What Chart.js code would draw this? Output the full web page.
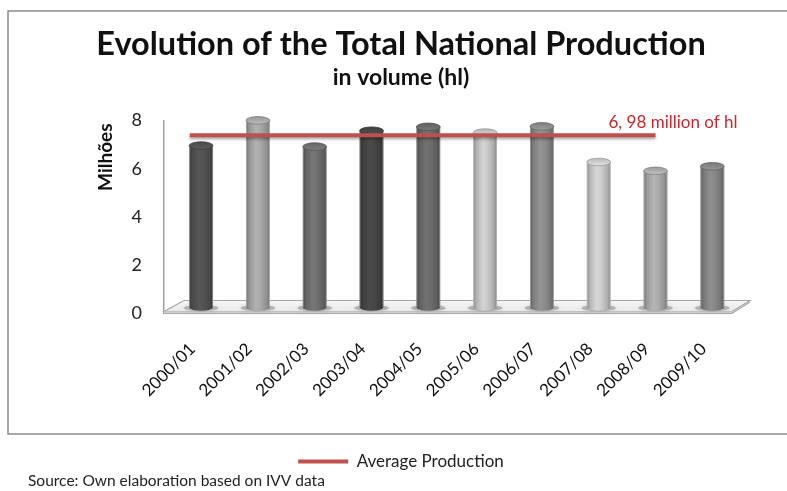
<!DOCTYPE html>
<html>
<head>
<meta charset="utf-8">
<title>Evolution of the Total National Production</title>
<script src="https://cdn.jsdelivr.net/npm/chart.js@4.4.1/dist/chart.umd.min.js"></script>
<style>
  html, body { margin: 0; padding: 0; background: #ffffff; }
  canvas { display: block; }
</style>
</head>
<body>
<canvas id="prodChart" width="787" height="491"></canvas>
<script>
// Wine campaigns and production (millions of hl)
const campaigns = ["2000/01", "2001/02", "2002/03", "2003/04", "2004/05", "2005/06", "2006/07", "2007/08", "2008/09", "2009/10"];
const production = [6.71, 7.76, 6.67, 7.33, 7.49, 7.25, 7.51, 6.03, 5.66, 5.85];
const yTicks = [0, 2, 4, 6, 8];

// Average production line, spanning from the first to the ninth campaign
const averageValue = 6.98;
const averageSpan = [-0.2, 8];
const averageLabel = "6, 98 million of hl";

// Grey tone of each cylinder
const barTones = [82, 168, 112, 70, 108, 200, 140, 204, 172, 135];

const FONT = "Lato, 'Open Sans', sans-serif";
const RED = "#c0504d";

// 3D depth offsets (cylinders sit in the middle of the floor, line further back)
const depth = { floorX: 20, floorY: -12.5, barX: 8.7, barY: -6, lineX: 8.7, lineY: -10 };

function grey(v, k) {
  const c = Math.max(0, Math.min(255, Math.round(v * k)));
  return "rgb(" + c + "," + c + "," + c + ")";
}

// Frame, floor, cylinders, average label, axis title and source note
const decorations = {
  id: "decorations",
  beforeDraw(chart) {
    const ctx = chart.ctx;
    ctx.save();
    ctx.fillStyle = "#ffffff";
    ctx.fillRect(0, 0, chart.width, chart.height);
    ctx.strokeStyle = "#8c8c8c";
    ctx.lineWidth = 1.5;
    ctx.strokeRect(8, 11, chart.width + 20, 423);
    ctx.restore();
  },
  beforeDatasetsDraw(chart) {
    const ctx = chart.ctx;
    const a = chart.chartArea;
    const b = a.bottom;
    ctx.save();
    // floor slab
    ctx.beginPath();
    ctx.moveTo(a.left, b - 1.5);
    ctx.lineTo(a.right, b - 1.5);
    ctx.lineTo(a.right + depth.floorX - 2, b + depth.floorY);
    ctx.lineTo(a.left + depth.floorX, b + depth.floorY);
    ctx.closePath();
    const g = ctx.createLinearGradient(0, b + depth.floorY, 0, b);
    g.addColorStop(0, "#f6f6f6");
    g.addColorStop(1, "#e8e8e8");
    ctx.fillStyle = g;
    ctx.fill();
    ctx.strokeStyle = "#a8a8a8";
    ctx.lineWidth = 1.2;
    ctx.stroke();
    ctx.fillStyle = "#dcdcdc";
    ctx.fillRect(a.left, b - 1.5, a.right - a.left, 1.8);
    ctx.beginPath();
    ctx.moveTo(a.left, b + 0.3);
    ctx.lineTo(a.right, b + 0.3);
    ctx.lineTo(a.right + depth.floorX - 2, b + depth.floorY + 1.5);
    ctx.stroke();
    ctx.restore();
  },
  beforeDatasetDraw(chart, args) {
    if (chart.data.datasets[args.index].type !== "line") return;
    const ctx = chart.ctx;
    ctx.save();
    ctx.translate(depth.lineX, depth.lineY);
    ctx.shadowColor = "rgba(0,0,0,0.35)";
    ctx.shadowBlur = 3;
    ctx.shadowOffsetY = 2;
  },
  afterDatasetDraw(chart, args) {
    const ctx = chart.ctx;
    const ds = chart.data.datasets[args.index];
    if (ds.type === "line") {
      ctx.restore();
      const pts = args.meta.data;
      const end = pts[pts.length - 1];
      ctx.save();
      ctx.fillStyle = "#c8282d";
      ctx.font = "17px " + FONT;
      ctx.textBaseline = "middle";
      ctx.fillText(averageLabel, end.x + depth.lineX - 47, end.y + depth.lineY - 12.5);
      ctx.restore();
      return;
    }
    // cylinders from the bar elements
    args.meta.data.forEach((el, i) => {
      const p = el.getProps(["x", "y", "base", "width"], true);
      const x = p.x + depth.barX;
      const top = p.y + depth.barY;
      const bottom = p.base + depth.barY;
      const rx = p.width / 2;
      const ry = 3.8;
      const tone = barTones[i];
      ctx.save();
      // shadow on the floor
      ctx.fillStyle = "rgba(0,0,0,0.22)";
      ctx.shadowColor = "rgba(0,0,0,0.45)";
      ctx.shadowBlur = 5;
      ctx.beginPath();
      ctx.ellipse(x, bottom + 1, rx * 1.45, 3.2, 0, 0, Math.PI * 2);
      ctx.fill();
      ctx.restore();

      ctx.save();
      const body = ctx.createLinearGradient(x - rx, 0, x + rx, 0);
      body.addColorStop(0, grey(tone, 0.68));
      body.addColorStop(0.15, grey(tone, 0.9));
      body.addColorStop(0.42, grey(tone, 1.06));
      body.addColorStop(0.62, grey(tone, 1.0));
      body.addColorStop(0.86, grey(tone, 0.86));
      body.addColorStop(1, grey(tone, 0.66));
      ctx.fillStyle = body;
      ctx.beginPath();
      ctx.moveTo(x - rx, top);
      ctx.lineTo(x - rx, bottom);
      ctx.ellipse(x, bottom, rx, ry, 0, Math.PI, 0, true);
      ctx.lineTo(x + rx, top);
      ctx.closePath();
      ctx.fill();
      // soft light rim along both sides
      ctx.strokeStyle = "rgba(255,255,255,0.35)";
      ctx.lineWidth = 1;
      ctx.beginPath();
      ctx.moveTo(x - rx + 0.5, top);
      ctx.lineTo(x - rx + 0.5, bottom);
      ctx.moveTo(x + rx - 0.5, top);
      ctx.lineTo(x + rx - 0.5, bottom);
      ctx.stroke();
      // top cap
      const cap = ctx.createLinearGradient(0, top - ry, 0, top + ry);
      cap.addColorStop(0, grey(tone, 0.9));
      cap.addColorStop(1, grey(tone, 1.12));
      ctx.fillStyle = cap;
      ctx.beginPath();
      ctx.ellipse(x, top, rx, ry, 0, 0, Math.PI * 2);
      ctx.fill();
      ctx.strokeStyle = grey(tone, 0.75);
      ctx.lineWidth = 0.8;
      ctx.stroke();
      ctx.restore();
    });
  },
  afterDraw(chart) {
    const ctx = chart.ctx;
    const y = chart.scales.y;
    ctx.save();
    // rotated axis title
    ctx.translate(106, y.getPixelForValue(6.48));
    ctx.rotate(-Math.PI / 2);
    ctx.font = "bold 19px " + FONT;
    ctx.fillStyle = "#111111";
    ctx.textAlign = "center";
    ctx.textBaseline = "middle";
    ctx.fillText("Milhões", 0, 0);
    ctx.restore();

    ctx.save();
    ctx.font = "15.5px " + FONT;
    ctx.fillStyle = "#222222";
    ctx.textBaseline = "middle";
    ctx.fillText("Source: Own elaboration based on IVV data", 28, 481);
    ctx.restore();
  }
};

const ctx = document.getElementById("prodChart").getContext("2d");
new Chart(ctx, {
  type: "bar",
  data: {
    labels: campaigns,
    datasets: [
      {
        type: "bar",
        label: "Production",
        data: production,
        backgroundColor: "rgba(0,0,0,0)",
        barPercentage: 0.42,
        categoryPercentage: 1,
        grouped: false,
        order: 1
      },
      {
        type: "line",
        label: "Average Production",
        data: averageSpan.map((x) => ({ x: x, y: averageValue })),
        xAxisID: "xl",
        borderColor: RED,
        backgroundColor: RED,
        borderWidth: 4,
        pointRadius: 0,
        order: 0
      }
    ]
  },
  options: {
    responsive: false,
    devicePixelRatio: 1,
    animation: false,
    layout: { padding: { left: 70, right: 55, top: 10, bottom: 11 } },
    plugins: {
      tooltip: { enabled: false },
      title: {
        display: true,
        text: "Evolution of the Total National Production",
        color: "#111111",
        font: { family: FONT, size: 32.5, weight: "bold" },
        padding: { top: 15, bottom: 0 }
      },
      subtitle: {
        display: true,
        text: "in volume (hl)",
        color: "#111111",
        font: { family: FONT, size: 23, weight: "bold" },
        padding: { top: 0, bottom: 29 }
      },
      legend: {
        position: "bottom",
        labels: {
          boxWidth: 50,
          boxHeight: 4,
          padding: 8,
          color: "#222222",
          font: { family: FONT, size: 17 },
          generateLabels(chart) {
            return Chart.defaults.plugins.legend.labels.generateLabels(chart)
              .filter((l) => l.datasetIndex === 1)
              .map((l) => Object.assign(l, { lineWidth: 0, fillStyle: RED }));
          }
        }
      }
    },
    scales: {
      x: {
        type: "category",
        grid: { display: false },
        border: { display: false },
        ticks: {
          autoSkip: false,
          minRotation: 45,
          maxRotation: 45,
          padding: 18,
          color: "#111111",
          font: { family: FONT, size: 17 }
        },
        afterFit(scale) { scale.height = 132; }
      },
      xl: {
        type: "linear",
        display: false,
        offset: false,
        min: -0.5,
        max: 9.5
      },
      y: {
        type: "linear",
        min: 0,
        max: 8,
        grid: { display: false },
        border: { display: true, color: "#a0a0a0", width: 1.5 },
        afterBuildTicks(scale) { scale.ticks = yTicks.map((v) => ({ value: v })); },
        ticks: {
          padding: 14,
          color: "#222222",
          font: { family: FONT, size: 18 }
        },
        afterFit(scale) { scale.width = 94; }
      }
    }
  },
  plugins: [decorations]
});
</script>
</body>
</html>
